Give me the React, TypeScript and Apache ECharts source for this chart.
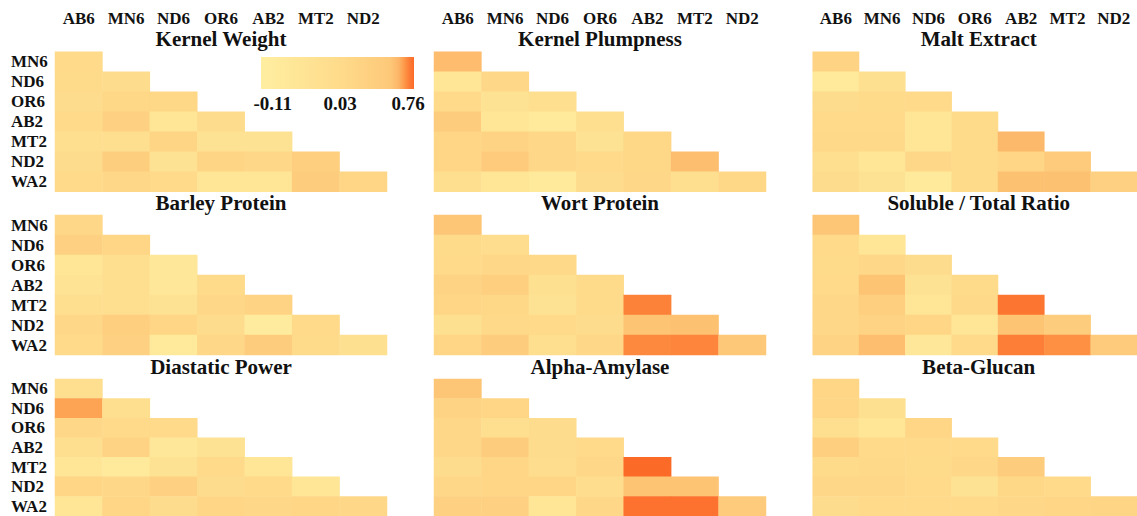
import React, { useEffect, useRef } from "react";
import * as echarts from "echarts";

const COLS = ["AB6", "MN6", "ND6", "OR6", "AB2", "MT2", "ND2"];
const ROWS = ["MN6", "ND6", "OR6", "AB2", "MT2", "ND2", "WA2"];

const TITLES = [
  "Kernel Weight", "Kernel Plumpness", "Malt Extract",
  "Barley Protein", "Wort Protein", "Soluble / Total Ratio",
  "Diastatic Power", "Alpha-Amylase", "Beta-Glucan",
];

// lower-triangular correlation values, row by row (ROWS), columns (COLS)
const kernelWeight = [
  [0.04],
  [0.03, 0.02],
  [0.02, 0.07, 0.07],
  [0.04, 0.12, -0.04, 0.02],
  [0.0, 0.0, 0.09, -0.02, -0.02],
  [0.02, 0.15, -0.02, 0.09, 0.06, 0.14],
  [0.04, 0.06, 0.04, -0.04, -0.04, 0.16, 0.08],
];
const kernelPlumpness = [
  [0.3],
  [-0.05, 0.06],
  [0.04, -0.02, 0.0],
  [0.16, -0.05, -0.07, 0.0],
  [0.08, 0.1, 0.06, -0.02, 0.07],
  [0.08, 0.18, 0.06, 0.04, 0.07, 0.28],
  [0.0, -0.04, -0.07, 0.02, 0.06, 0.0, 0.07],
];
const maltExtract = [
  [0.1],
  [-0.07, -0.01],
  [0.02, 0.03, 0.04],
  [0.04, 0.04, -0.05, 0.03],
  [0.05, 0.05, -0.05, 0.03, 0.32],
  [0.0, -0.05, 0.06, 0.03, 0.08, 0.18],
  [0.02, -0.02, -0.07, 0.03, 0.26, 0.26, 0.12],
];
const barleyProtein = [
  [0.06],
  [0.12, 0.08],
  [-0.05, 0.0, -0.06],
  [-0.03, 0.0, -0.06, 0.03],
  [0.0, 0.0, -0.02, 0.06, 0.1],
  [0.06, 0.14, 0.08, 0.02, -0.09, 0.04],
  [0.04, 0.12, -0.08, 0.06, 0.16, 0.03, -0.01],
];
const wortProtein = [
  [0.22],
  [0.03, 0.01],
  [0.04, 0.06, 0.05],
  [0.1, 0.14, -0.01, 0.03],
  [0.08, 0.07, -0.02, 0.03, 0.64],
  [-0.01, 0.05, 0.04, 0.02, 0.24, 0.26],
  [0.08, 0.16, 0.0, 0.06, 0.6, 0.62, 0.2],
];
const solubleTotal = [
  [0.22],
  [0.04, -0.04],
  [0.03, 0.06, 0.02],
  [0.04, 0.24, -0.02, 0.03],
  [0.06, 0.14, -0.04, 0.05, 0.7],
  [0.06, 0.1, 0.08, -0.05, 0.24, 0.16],
  [0.1, 0.28, -0.06, 0.04, 0.66, 0.56, 0.18],
];
const diastaticPower = [
  [0.0],
  [0.45, 0.0],
  [0.06, 0.04, 0.04],
  [0.0, 0.1, -0.06, -0.02],
  [-0.04, -0.08, -0.02, 0.04, -0.05],
  [0.08, 0.06, 0.12, 0.02, 0.04, -0.05],
  [-0.04, 0.08, 0.02, 0.08, 0.06, 0.08, 0.06],
];
const alphaAmylase = [
  [0.22],
  [0.1, 0.08],
  [0.06, 0.0, 0.02],
  [0.06, 0.16, 0.02, 0.04],
  [0.02, 0.08, 0.01, 0.06, 0.76],
  [0.06, 0.08, 0.08, 0.01, 0.24, 0.24],
  [0.12, 0.12, -0.05, 0.06, 0.72, 0.72, 0.18],
];
const betaGlucan = [
  [0.08],
  [0.08, -0.01],
  [0.0, -0.05, 0.08],
  [0.14, 0.04, 0.04, 0.04],
  [0.03, 0.05, 0.03, 0.06, 0.16],
  [0.06, 0.06, 0.04, -0.02, 0.07, 0.04],
  [0.02, 0.04, 0.04, 0.04, 0.06, 0.08, 0.09],
];

const PANELS = [
  kernelWeight, kernelPlumpness, maltExtract,
  barleyProtein, wortProtein, solubleTotal,
  diastaticPower, alphaAmylase, betaGlucan,
];

// colour scale (value stops -> colours) and colourbar ticks
const SCALE_VALUES = [-0.11, 0.03, 0.2, 0.35, 0.5, 0.65, 0.76];
const SCALE_COLORS = ["#FFEEA0", "#FEDB8B", "#FDC979", "#FDB568", "#FD9A4A", "#FD8038", "#FC6A28"];
const BAR_TICKS = ["-0.11", "0.03", "0.76"];

// layout (styling only)
const BAR_POS = [0, 0.52, 0.84, 0.9, 0.935, 0.965, 1];
const TICK_X = [272.7, 340, 408];
const FONT = "Liberation Serif";
const GRID_LEFT = [55, 434, 812.7];
const GRID_TOP = [51.7, 215, 379];
const GRID_W = 332;
const GRID_H = 140;

function hexToRgb(h: string) {
  const n = parseInt(h.slice(1), 16);
  return [(n >> 16) & 255, (n >> 8) & 255, n & 255];
}
function colorAt(v: number) {
  let i = 0;
  while (i < SCALE_VALUES.length - 2 && v > SCALE_VALUES[i + 1]) i++;
  const t = Math.max(0, Math.min(1, (v - SCALE_VALUES[i]) / (SCALE_VALUES[i + 1] - SCALE_VALUES[i])));
  const a = hexToRgb(SCALE_COLORS[i]);
  const b = hexToRgb(SCALE_COLORS[i + 1]);
  const c = a.map((x, k) => Math.round(x + (b[k] - x) * t));
  return `rgb(${c[0]},${c[1]},${c[2]})`;
}

export default function App() {
  const ref = useRef<HTMLDivElement>(null);
  useEffect(() => {
    if (!ref.current) return;
    const chart = echarts.init(ref.current, null, { renderer: "svg" });
    const vmin = SCALE_VALUES[0];
    const vmax = SCALE_VALUES[SCALE_VALUES.length - 1];
    const steps = 88;
    const sampled: string[] = [];
    for (let i = 0; i < steps; i++) sampled.push(colorAt(vmin + ((vmax - vmin) * i) / (steps - 1)));

    const grids: any[] = [];
    const xAxes: any[] = [];
    const yAxes: any[] = [];
    const series: any[] = [];
    const graphics: any[] = [];
    PANELS.forEach((panel, p) => {
      const pc = p % 3;
      const pr = Math.floor(p / 3);
      grids.push({ left: GRID_LEFT[pc], top: GRID_TOP[pr], width: GRID_W, height: GRID_H });
      xAxes.push({
        type: "category", gridIndex: p, data: COLS, position: "top",
        axisLine: { show: false }, axisTick: { show: false }, splitLine: { show: false },
        axisLabel: {
          show: pr === 0, interval: 0, margin: 25, fontFamily: FONT, fontWeight: "bold", fontSize: 17, color: "#111",
        },
      });
      yAxes.push({
        type: "category", gridIndex: p, data: ROWS, inverse: true,
        axisLine: { show: false }, axisTick: { show: false }, splitLine: { show: false },
        axisLabel: {
          show: pc === 0, interval: 0, margin: 44, align: "left", fontFamily: FONT, fontWeight: "bold", fontSize: 17, color: "#111",
        },
      });
      const data: any[] = [];
      panel.forEach((row, r) => row.forEach((v, c) => data.push([c, r, v])));
      series.push({
        type: "heatmap", xAxisIndex: p, yAxisIndex: p, data,
        itemStyle: { borderWidth: 0 }, emphasis: { disabled: true },
      });
      graphics.push({
        type: "text", x: GRID_LEFT[pc] + GRID_W / 2, y: GRID_TOP[pr] - 12.5,
        style: {
          text: TITLES[p], fill: "#111", textAlign: "center", textVerticalAlign: "middle",
          font: `bold 21px "${FONT}"`,
        },
      });
    });

    graphics.push({
      type: "rect", shape: { x: 261, y: 57, width: 153, height: 32 },
      style: {
        fill: {
          type: "linear", x: 0, y: 0, x2: 1, y2: 0,
          colorStops: BAR_POS.map((o, i) => ({ offset: o, color: SCALE_COLORS[i] })),
        },
      },
    });
    BAR_TICKS.forEach((t, i) => {
      graphics.push({
        type: "text", x: TICK_X[i], y: 103,
        style: { text: t, fill: "#111", textAlign: "center", textVerticalAlign: "middle", font: `bold 19px "${FONT}"` },
      });
    });

    chart.setOption({
      animation: false,
      grid: grids,
      xAxis: xAxes,
      yAxis: yAxes,
      visualMap: {
        type: "continuous", show: false, min: vmin, max: vmax, dimension: 2,
        seriesIndex: series.map((_, i) => i), inRange: { color: sampled },
      },
      series,
      graphic: graphics,
    });
    return () => chart.dispose();
  }, []);
  return (
    <div
      ref={ref}
      style={{ position: "fixed", left: 0, top: 0, width: 1137, height: 516, background: "#fff" }}
    />
  );
}
